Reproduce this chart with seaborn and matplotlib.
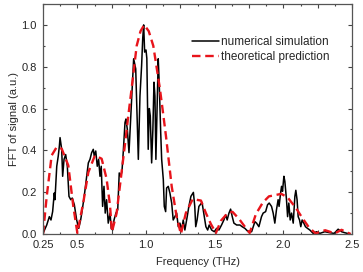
import numpy as np
import pandas as pd
import matplotlib
matplotlib.use('Agg')
import matplotlib.pyplot as plt
from matplotlib.ticker import FixedLocator, MultipleLocator, FixedFormatter
import seaborn as sns

# numerical simulation
sim_freq = [0.250, 0.277, 0.296, 0.308, 0.320, 0.332, 0.337, 0.350, 0.361, 0.369,
            0.374, 0.386, 0.393, 0.403, 0.415, 0.427, 0.439, 0.452, 0.463, 0.478,
            0.495, 0.510, 0.524, 0.536, 0.550, 0.568, 0.580, 0.592, 0.604, 0.616,
            0.623, 0.634, 0.645, 0.655, 0.665, 0.674, 0.684, 0.694, 0.703, 0.713,
            0.725, 0.738, 0.747, 0.757, 0.767, 0.781, 0.794, 0.805, 0.815, 0.825,
            0.834, 0.847, 0.854, 0.864, 0.876, 0.888, 0.900, 0.910, 0.925, 0.932,
            0.944, 0.956, 0.968, 0.976, 0.983, 0.990, 1.000, 1.006, 1.012, 1.016,
            1.024, 1.031, 1.041, 1.050, 1.058, 1.065, 1.072, 1.079, 1.089, 1.096,
            1.107, 1.114, 1.126, 1.133, 1.143, 1.150, 1.162, 1.174, 1.187, 1.198,
            1.210, 1.223, 1.235, 1.247, 1.259, 1.271, 1.283, 1.300, 1.312, 1.327,
            1.345, 1.355, 1.362, 1.372, 1.385, 1.408, 1.420, 1.436, 1.449, 1.460,
            1.478, 1.497, 1.514, 1.531, 1.550, 1.567, 1.580, 1.591, 1.604, 1.616,
            1.628, 1.640, 1.660, 1.684, 1.700, 1.720, 1.744, 1.769, 1.793, 1.805,
            1.822, 1.841, 1.853, 1.871, 1.885, 1.897, 1.914, 1.926, 1.938, 1.950,
            1.962, 1.969, 1.980, 1.987, 1.994, 2.004, 2.011, 2.023, 2.031, 2.040,
            2.050, 2.060, 2.072, 2.084, 2.091, 2.100, 2.108, 2.118, 2.127, 2.137,
            2.149, 2.161, 2.176, 2.193, 2.217, 2.242, 2.266, 2.302, 2.339, 2.370,
            2.399, 2.424, 2.448, 2.485]
sim_fft = [0.003, 0.043, 0.083, 0.067, 0.107, 0.196, 0.164, 0.324, 0.373, 0.420,
           0.461, 0.405, 0.276, 0.357, 0.380, 0.324, 0.180, 0.164, 0.172, 0.140,
           0.067, 0.027, 0.067, 0.116, 0.180, 0.276, 0.340, 0.357, 0.389, 0.405,
           0.373, 0.397, 0.324, 0.357, 0.276, 0.324, 0.132, 0.228, 0.100, 0.164,
           0.052, 0.100, 0.027, 0.019, 0.067, 0.100, 0.116, 0.292, 0.276, 0.300,
           0.389, 0.533, 0.550, 0.500, 0.389, 0.550, 0.710, 0.838, 0.790, 0.630,
           0.357, 0.660, 0.806, 0.935, 1.000, 0.870, 0.880, 0.840, 0.580, 0.405,
           0.600, 0.565, 0.340, 0.500, 0.726, 0.660, 0.357, 0.550, 0.838, 0.726,
           0.485, 0.357, 0.260, 0.132, 0.107, 0.220, 0.228, 0.196, 0.148, 0.067,
           0.083, 0.100, 0.035, 0.052, 0.019, 0.067, 0.019, 0.083, 0.132, 0.180,
           0.199, 0.132, 0.035, 0.067, 0.132, 0.151, 0.100, 0.035, 0.019, 0.043,
           0.019, 0.011, 0.027, 0.019, 0.043, 0.067, 0.092, 0.067, 0.100, 0.119,
           0.083, 0.052, 0.043, 0.043, 0.035, 0.027, 0.011, 0.011, 0.059, 0.052,
           0.035, 0.083, 0.100, 0.107, 0.140, 0.148, 0.132, 0.100, 0.052, 0.116,
           0.164, 0.132, 0.196, 0.228, 0.204, 0.276, 0.252, 0.164, 0.083, 0.148,
           0.067, 0.100, 0.052, 0.180, 0.209, 0.164, 0.083, 0.067, 0.035, 0.067,
           0.052, 0.035, 0.027, 0.019, 0.003, 0.011, 0.003, 0.011, 0.006, 0.003,
           0.023, 0.011, 0.006, 0.000]

# theoretical prediction
theo_freq = [0.250, 0.277, 0.313, 0.350, 0.386, 0.434, 0.470, 0.500, 0.543, 0.580,
             0.628, 0.677, 0.713, 0.738, 0.752, 0.786, 0.810, 0.847, 0.870, 0.896,
             0.932, 0.960, 0.987, 1.020, 1.053, 1.100, 1.120, 1.145, 1.187, 1.223,
             1.254, 1.290, 1.340, 1.400, 1.436, 1.473, 1.509, 1.545, 1.594, 1.630,
             1.679, 1.715, 1.755, 1.800, 1.850, 1.895, 1.985, 2.031, 2.091, 2.140,
             2.188, 2.235, 2.305, 2.375, 2.424, 2.490]
theo_fft = [0.000, 0.180, 0.376, 0.416, 0.408, 0.328, 0.135, 0.005, 0.150, 0.295,
            0.376, 0.360, 0.264, 0.135, 0.010, 0.100, 0.230, 0.430, 0.560, 0.700,
            0.900, 0.970, 1.000, 0.970, 0.900, 0.700, 0.600, 0.470, 0.228, 0.083,
            0.000, 0.100, 0.167, 0.160, 0.100, 0.047, 0.005, 0.063, 0.100, 0.106,
            0.071, 0.039, 0.005, 0.095, 0.150, 0.180, 0.192, 0.175, 0.125, 0.075,
            0.030, 0.003, 0.018, 0.003, 0.020, 0.000]

xtick_vals = [0.25, 0.5, 0.75, 1.0, 1.25, 1.5, 1.75, 2.0, 2.25, 2.5]
xtick_text = ['0.25', '0.5', '', '1.0', '', '1.5', '', '2.0', '', '2.5']

sim = pd.DataFrame({'freq': sim_freq, 'fft': sim_fft})
theo = pd.DataFrame({'freq': theo_freq, 'fft': theo_fft})

sns.set_style('ticks')
plt.rcParams['font.family'] = ['Liberation Sans', 'DejaVu Sans']

fig = plt.figure(figsize=(3.63, 2.72), dpi=100)
ax = fig.add_axes([0.1185, 0.1397, 0.8512, 0.8456])

sns.lineplot(data=sim, x='freq', y='fft', ax=ax, color='black', lw=1.1,
             label='numerical simulation', sort=False)
sns.lineplot(data=theo, x='freq', y='fft', ax=ax, color='#e8141b', lw=1.7,
             dashes=False, label='theoretical prediction', sort=False)
ax.lines[1].set_dashes((3.6, 2.0))

ax.set_xlim(0.25, 2.5)
ax.set_ylim(0, 1.1)
ax.xaxis.set_major_locator(FixedLocator(xtick_vals))
ax.xaxis.set_major_formatter(FixedFormatter(xtick_text))
ax.xaxis.set_minor_locator(MultipleLocator(0.125))
ax.yaxis.set_major_locator(MultipleLocator(0.2))
ax.yaxis.set_minor_locator(MultipleLocator(0.1))
ax.yaxis.set_major_formatter(plt.FormatStrFormatter('%.1f'))

ax.tick_params(which='both', direction='in', top=True, right=True,
               color='#444444', width=0.8, labelsize=8, pad=4.5)
ax.tick_params(which='major', length=3)
ax.tick_params(which='minor', length=1.6)
for s in ax.spines.values():
    s.set_color('#555555')
    s.set_linewidth(0.9)

ax.set_xlabel('Frequency (THz)', fontsize=8, labelpad=5)
ax.set_ylabel('FFT of signal (a.u.)', fontsize=8, labelpad=2)

leg = ax.legend(loc='upper left', bbox_to_anchor=(0.482, 0.862), frameon=False,
                fontsize=8.5, handlelength=2.3, handletextpad=0.15,
                labelspacing=0.3, borderpad=0, borderaxespad=0)
leg.get_lines()[1].set_dashes((3.6, 2.0))

fig.savefig('out.png', dpi=100)
